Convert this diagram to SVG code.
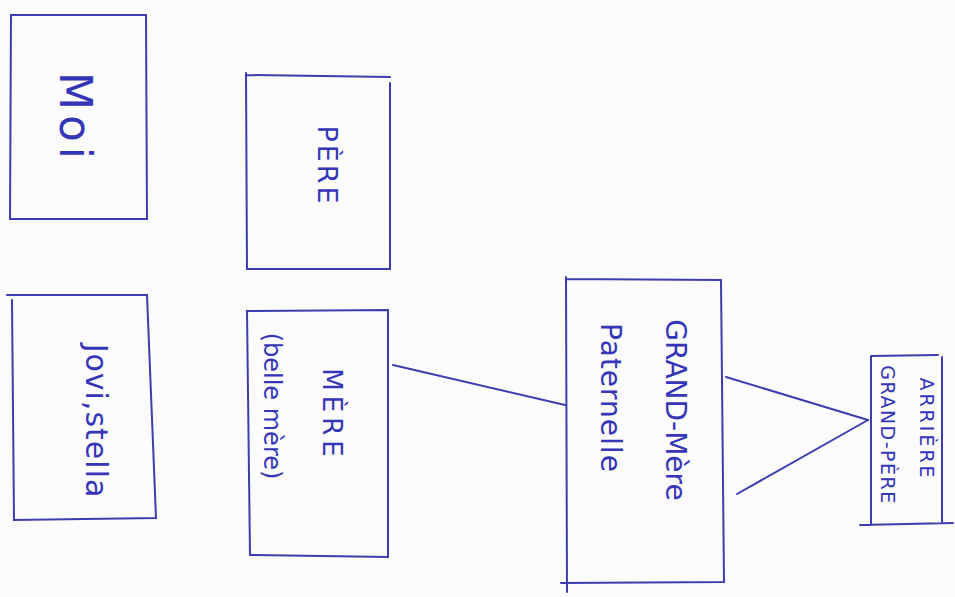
<svg xmlns="http://www.w3.org/2000/svg" width="955" height="597" viewBox="0 0 955 597">
<style>
.bx{fill:none;stroke:#3d3db0;stroke-width:2;stroke-linecap:round}
.ln{fill:none;stroke:#3d3db0;stroke-width:2;stroke-linecap:round}
text{font-family:"DejaVu Sans","Liberation Sans",sans-serif;fill:#3535b8;text-anchor:middle;dominant-baseline:central}
</style>
<rect width="955" height="597" fill="#fbfbfb"/>
<g id="connectors">
<line class="ln" x1="393" y1="365" x2="565" y2="405"/>
<line class="ln" x1="726" y1="377" x2="868" y2="420"/>
<line class="ln" x1="737" y1="494" x2="868" y2="420"/>
</g>
<g id="moi">
<path class="bx" d="M11 15 L146 15 L147 219 L10 219 Z"/>
<text transform="translate(75,118) rotate(90)" font-size="44" letter-spacing="5">Moi</text>
</g>
<g id="pere">
<path class="bx" d="M246 75 L390 77 M390 83 L390 269 L247 269 L246 73"/>
<text transform="translate(327,166) rotate(90)" font-size="27" letter-spacing="3">PÈRE</text>
</g>
<g id="jovi">
<path class="bx" d="M7 295 L147 295 L156 518 L14 520 L12 300"/>
<text transform="translate(96,421) rotate(90)" font-size="30" letter-spacing="1">Jovi,stella</text>
</g>
<g id="mere">
<path class="bx" d="M247 311 L388 310 L388 557 L250 555 Z"/>
<text transform="translate(332,415) rotate(90)" font-size="26" letter-spacing="5">MÈRE</text>
<text transform="translate(272,406) rotate(90)" font-size="24">(belle mère)</text>
</g>
<g id="grand-mere">
<path class="bx" d="M566 279 L721 280 L724 582 L561 583 M566 277 L567 592"/>
<text transform="translate(675,410) rotate(90)" font-size="28">GRAND-Mère</text>
<text transform="translate(610,398) rotate(90)" font-size="28" letter-spacing="1">Paternelle</text>
</g>
<g id="arriere-grand-pere">
<path class="bx" d="M871 356 L938 355 M942 357 L942 523 M860 525 L953 523 M871 356 L871 525"/>
<text transform="translate(927,429) rotate(90)" font-size="19" letter-spacing="3">ARRIÈRE</text>
<text transform="translate(888,435) rotate(90)" font-size="19" letter-spacing="1.5">GRAND-PÈRE</text>
</g>
</svg>
